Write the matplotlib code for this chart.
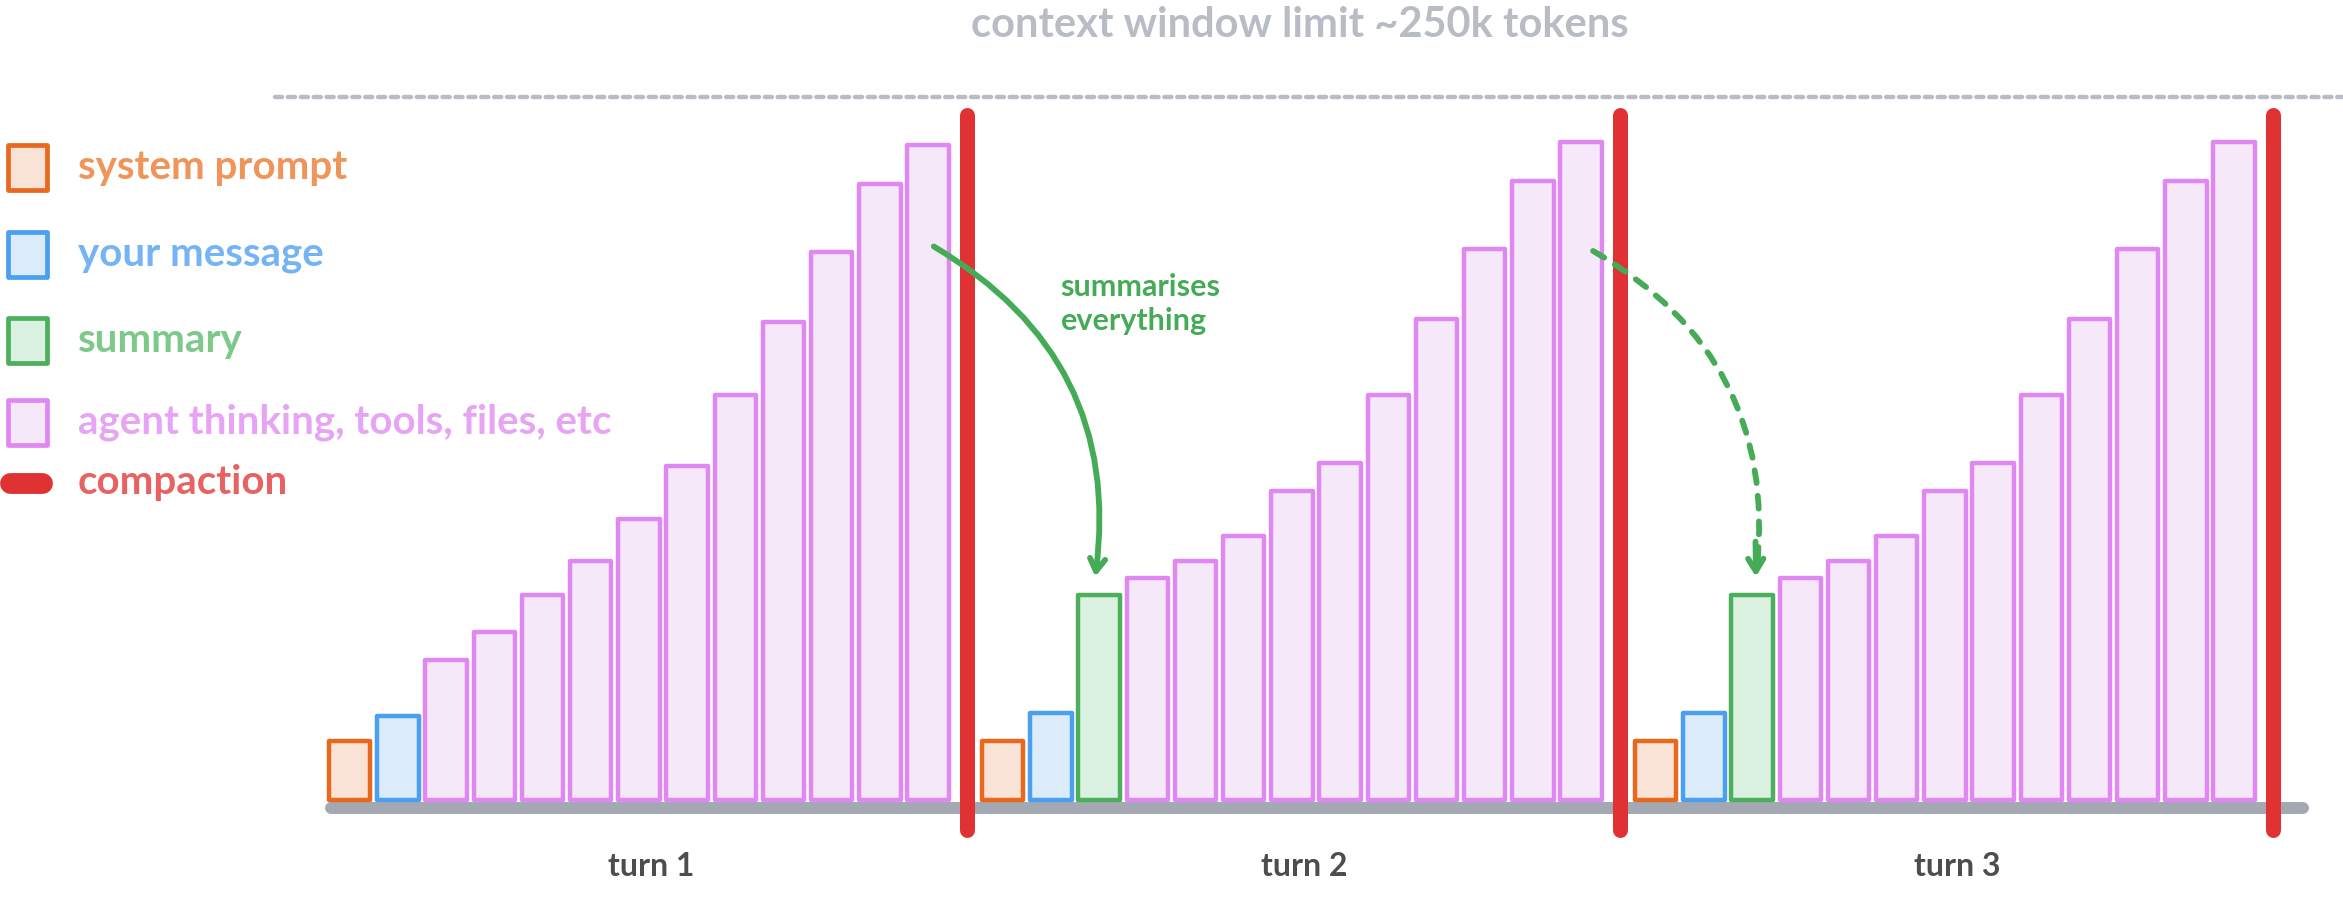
import matplotlib
matplotlib.use("Agg")
import matplotlib.pyplot as plt
import numpy as np
from matplotlib.patches import Rectangle

# ---- data (k tokens) ----
turn_labels = ["turn 1", "turn 2", "turn 3"]
turn1_kinds = ["system"] + ["message"] + ["agent"] * 11
turn1_values = [21, 30, 50, 60, 73, 85, 100, 119, 144, 170, 195, 219, 233]
turn2_kinds = ["system", "message", "summary"] + ["agent"] * 10
turn2_values = [21, 31, 73, 79, 85, 94, 110, 120, 144, 171, 196, 220, 234]
turn3_kinds = ["system", "message", "summary"] + ["agent"] * 10
turn3_values = [21, 31, 73, 79, 85, 94, 110, 120, 144, 171, 196, 220, 234]
context_limit = 250
title = "context window limit ~250k tokens"
legend_labels = ["system prompt", "your message", "summary",
                 "agent thinking, tools, files, etc", "compaction"]
annotation_text = "summarises\neverything"

# ---- styles ----
edge = {"system": "#e8691e", "message": "#4a9ff0", "summary": "#4caf5c", "agent": "#e088f2"}
fill = {"system": "#f9e2d6", "message": "#dcebf9", "summary": "#daf0e0", "agent": "#f5e8f9"}
text_col = {"system": "#f0955a", "message": "#74b4f4", "summary": "#7cc98a",
            "agent": "#e8a4f4", "compaction": "#e86262"}
RED = "#e03232"
GRAY = "#b8bdc5"
BASE = "#a3a8b2"
GREEN = "#45ab57"
FONT = ["Lato", "DejaVu Sans"]

fig = plt.figure(figsize=(23.43, 8.97), dpi=100)
ax = fig.add_axes([0, 0, 1, 1])
ax.set_xlim(-7.256, 41.36)
ax.set_ylim(-34.3, 284.5)
ax.axis("off")

turns = [(turn1_kinds, turn1_values), (turn2_kinds, turn2_values), (turn3_kinds, turn3_values)]
starts = [0, 13.55, 27.1]

# baseline
ax.plot([-0.38, 40.53], [-2.65, -2.65], color=BASE, lw=8.6, solid_capstyle="round", zorder=1)

for (kinds, vals), s, lab in zip(turns, starts, turn_labels):
    xs = s + np.arange(len(vals))
    ax.bar(xs, vals, width=0.86, bottom=0,
           color=[fill[k] for k in kinds], edgecolor=[edge[k] for k in kinds],
           linewidth=3.2, joinstyle="round", zorder=2)
    ax.plot([s + 12.8, s + 12.8], [-10.5, 243.5], color=RED, lw=10.8,
            solid_capstyle="round", zorder=3)
    ax.text(s + 6.25, -23.4, lab, ha="center", va="center", fontsize=23,
            fontweight="bold", color="#4d4d4d", family=FONT)

# context limit
ax.plot([-1.55, 41.5], [context_limit, context_limit], color=GRAY, lw=3.2,
        dashes=(1.6, 1.3), dash_capstyle="round", zorder=1)
ax.text(19.72, 275.5, title, ha="center", va="center", fontsize=30,
        fontweight="bold", color=GRAY, family=FONT)

# legend
leg_y = [225, 194, 163.5, 134.3]
for k, y, lab in zip(["system", "message", "summary", "agent"], leg_y, legend_labels[:4]):
    ax.add_patch(Rectangle((-7.1, y - 7.9), 0.82, 15.8, facecolor=fill[k], edgecolor=edge[k],
                           lw=3.4, joinstyle="round", zorder=2))
    ax.text(-5.64, y, lab, ha="left", va="center", fontsize=29, fontweight="bold",
            color=text_col[k], family=FONT)
ax.plot([-7.05, -6.38], [113, 113], color=RED, lw=15, solid_capstyle="round")
ax.text(-5.64, 113, legend_labels[4], ha="left", va="center", fontsize=29, fontweight="bold",
        color=text_col["compaction"], family=FONT)

# arrows
ax.annotate("", xy=(15.47, 79.5), xytext=(12.12, 196.9),
            arrowprops=dict(arrowstyle="->,head_length=0.9,head_width=0.55", color=GREEN,
                            lw=4.2, connectionstyle="arc3,rad=-0.33", capstyle="round",
                            shrinkA=0, shrinkB=0))
ax.annotate("", xy=(29.18, 79.5), xytext=(25.8, 195.3),
            arrowprops=dict(arrowstyle="-", color=GREEN, lw=4.2, linestyle=(0, (2.2, 2.2)),
                            connectionstyle="arc3,rad=-0.33", capstyle="round",
                            shrinkA=0, shrinkB=6))
ax.annotate("", xy=(29.18, 79.5), xytext=(29.17, 92),
            arrowprops=dict(arrowstyle="->,head_length=0.9,head_width=0.55", color=GREEN,
                            lw=4.2, shrinkA=0, shrinkB=0))
ax.text(14.75, 176.5, annotation_text, ha="left", va="center", fontsize=22, fontweight="bold",
        color=GREEN, family=FONT, linespacing=1.25)

fig.savefig("out.png", dpi=100)
